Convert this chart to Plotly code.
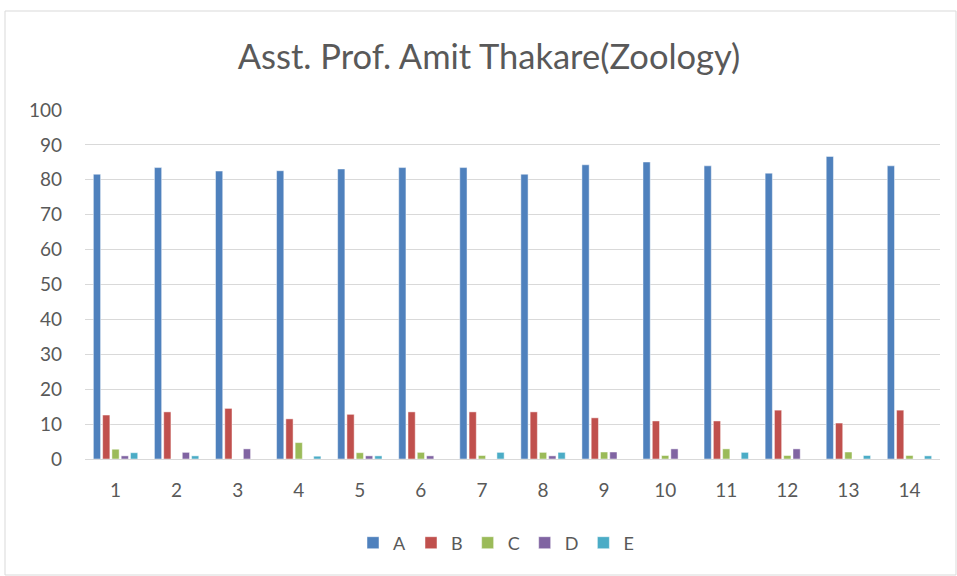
import plotly.graph_objects as go

categories = [str(i) for i in range(1, 15)]
series_names = ["A", "B", "C", "D", "E"]
A = [81.6, 83.5, 82.5, 82.6, 83.1, 83.5, 83.5, 81.6, 84.3, 85.1, 84.0, 81.9, 86.7, 84.0]
B = [12.6, 13.5, 14.5, 11.5, 12.8, 13.5, 13.5, 13.5, 11.8, 10.9, 10.9, 14.0, 10.3, 14.0]
C = [2.8, 0, 0, 4.7, 1.8, 1.9, 1.0, 1.9, 2.0, 1.0, 2.9, 1.0, 2.0, 1.0]
D = [0.9, 1.9, 2.9, 0, 0.9, 0.9, 0, 0.9, 2.0, 2.9, 0, 2.9, 0, 0]
E = [1.8, 0.9, 0, 0.8, 0.9, 0, 1.9, 1.9, 0, 0, 1.9, 0, 1.0, 0.9]
values = [A, B, C, D, E]
colors = ["#4F81BD", "#C0504D", "#9BBB59", "#8064A2", "#4BACC6"]
y_ticks = list(range(0, 101, 10))

fig = go.Figure()
for name, vals, col in zip(series_names, values, colors):
    fig.add_trace(go.Bar(x=categories, y=vals, name=name,
                         marker=dict(color=col, line=dict(color="rgba(255,255,255,0.6)", width=0.8))))

font_family = "Lato, Open Sans, sans-serif"
fig.update_layout(
    width=957, height=576,
    margin=dict(l=85, r=17, t=110, b=117),
    paper_bgcolor="white", plot_bgcolor="white",
    barmode="group", bargap=0.24, bargroupgap=0.22,
    title=dict(text="Asst. Prof. Amit Thakare(Zoology)", x=489/957, xanchor="center",
               y=1 - 57/576, yanchor="middle", yref="container",
               font=dict(family=font_family, size=34.5, color="#595959")),
    font=dict(family=font_family, size=18, color="#595959"),
    xaxis=dict(showgrid=False, showline=True, linecolor="#d9d9d9", linewidth=1,
               ticks="", ticklabelstandoff=14, tickfont=dict(size=19, color="#595959")),
    yaxis=dict(range=[0, 100], tickvals=y_ticks, showgrid=True, gridcolor="#d9d9d9",
               gridwidth=1, zeroline=False, showline=False, ticks="",
               ticklabelstandoff=22, tickfont=dict(size=19, color="#595959")),
    legend=dict(orientation="h", x=(496-85)/855, xanchor="center", y=-84/349, yanchor="middle",
                font=dict(size=18, color="#595959"), itemwidth=30, traceorder="normal"),
    showlegend=True,
)
fig.add_shape(type="rect", xref="paper", yref="paper",
              x0=-80/855, x1=871/855, y0=-116/349, y1=448/349,
              line=dict(color="#d9d9d9", width=1), fillcolor="rgba(0,0,0,0)", layer="below")
fig.write_html("out.html", post_script="document.body.style.margin='0';",
               config={"displayModeBar": False})
